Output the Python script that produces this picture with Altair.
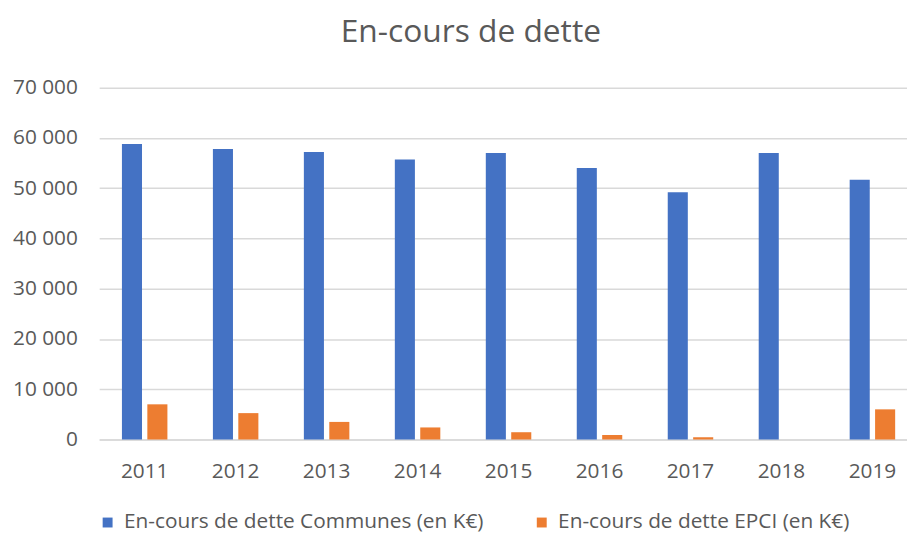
import altair as alt
import pandas as pd

years = ["2011", "2012", "2013", "2014", "2015", "2016", "2017", "2018", "2019"]
communes = [58800, 57800, 57200, 55700, 57000, 54000, 49200, 57000, 51700]
epci = [7000, 5250, 3500, 2400, 1450, 900, 450, 0, 6000]
series = ["En-cours de dette Communes (en K€)", "En-cours de dette EPCI (en K€)"]
colors = ["#4472C4", "#ED7D31"]
y_ticks = [0, 10000, 20000, 30000, 40000, 50000, 60000, 70000]

rows = []
for i, y in enumerate(years):
    rows.append({"year": y, "serie": series[0], "value": communes[i]})
    rows.append({"year": y, "serie": series[1], "value": epci[i]})
df = pd.DataFrame(rows)

FONT = "Open Sans"
GREY = "#595959"

chart = alt.Chart(df).mark_bar().encode(
    x=alt.X("year:N", sort=years,
            scale=alt.Scale(paddingInner=0.5, paddingOuter=0.25),
            axis=alt.Axis(title=None, labelAngle=0, labelFontSize=21, labelFont=FONT,
                          labelColor=GREY, labelPadding=21, ticks=False,
                          domainColor="#D9D9D9", domainWidth=1.5, grid=False)),
    xOffset=alt.XOffset("serie:N", sort=series, scale=alt.Scale(paddingInner=0.21)),
    y=alt.Y("value:Q",
            scale=alt.Scale(domain=[0, 70000], nice=False),
            axis=alt.Axis(title=None, values=y_ticks, labelFontSize=21, labelFont=FONT,
                          labelColor=GREY, labelPadding=22, ticks=False, domain=False,
                          gridColor="#D9D9D9", gridWidth=1.5,
                          labelExpr="replace(format(datum.value, ','), ',', ' ')")),
    color=alt.Color("serie:N", sort=series,
                    scale=alt.Scale(domain=series, range=colors),
                    legend=alt.Legend(title=None, orient="none", legendX=-2, legendY=428,
                                      direction="horizontal", symbolType="square",
                                      symbolSize=100, symbolStrokeWidth=0,
                                      labelFontSize=21, labelFont=FONT, labelColor=GREY,
                                      labelLimit=0, labelOffset=6, columnPadding=47)),
).properties(
    width=826,
    height=355,
    autosize=alt.AutoSizeParams(type="none"),
    padding={"left": 92, "top": 78, "right": -11, "bottom": 95},
    title=alt.TitleParams("En-cours de dette", fontSize=32, font=FONT, color=GREY,
                          fontWeight="normal", anchor="middle", dx=-38, offset=28),
).configure_view(stroke=None)

chart.save("out.html", embed_options={"renderer": "svg", "actions": False})
